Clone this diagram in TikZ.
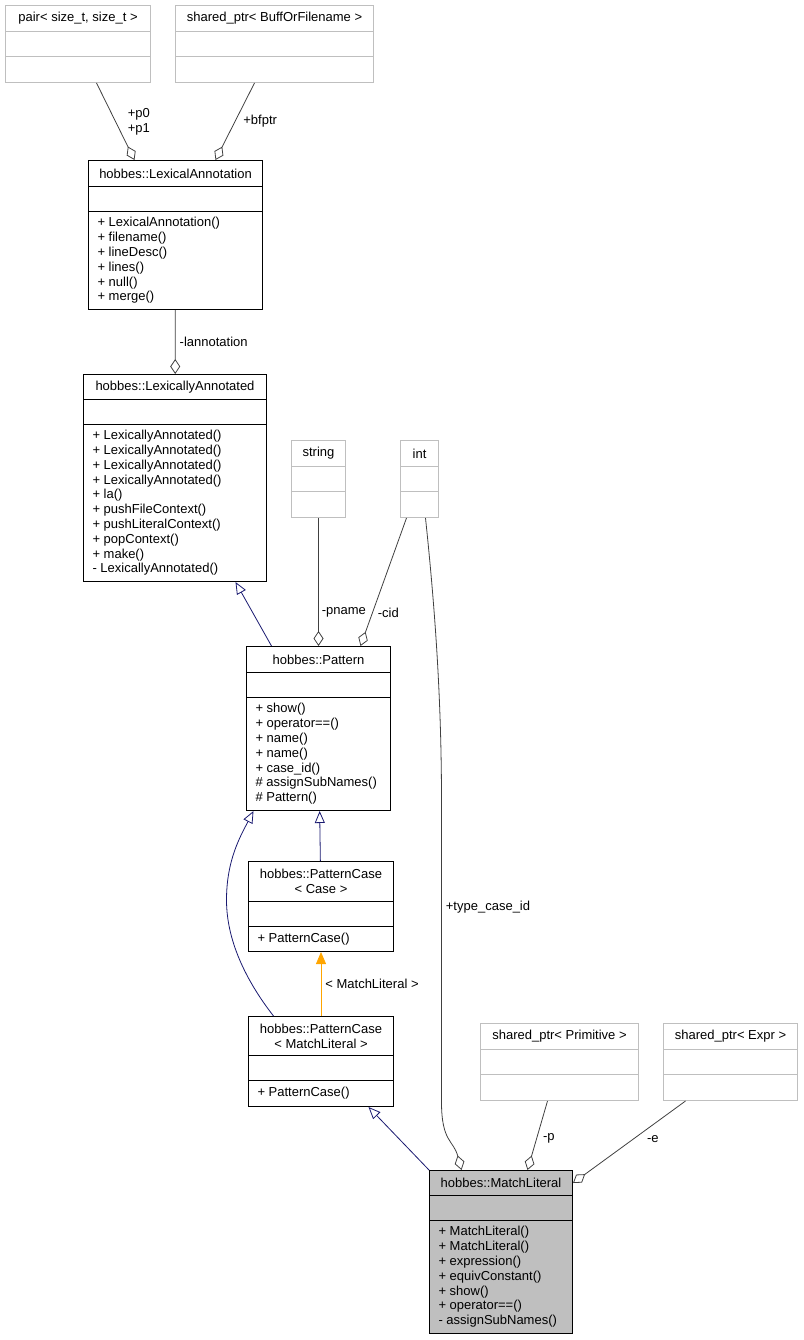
\documentclass[tikz,border=0pt]{standalone}
\usepackage{fontspec}
\setmainfont{Liberation Sans}
\usetikzlibrary{shapes.multipart,arrows.meta}
\definecolor{edgegray}{HTML}{404040}
\definecolor{boxgray}{HTML}{BFBFBF}
\definecolor{navyline}{HTML}{191970}
\definecolor{tmplorange}{HTML}{FFA500}
\newcommand{\cpart}[3]{\parbox[c][#2][c]{#1}{#3}}
\newcommand{\classbody}[5]{\cpart{#1}{#2}{\centering #3}\nodepart{second}\cpart{#1}{24pt}{}\nodepart{third}\cpart{#1}{#4}{\raggedright\leftskip=9pt\relax #5}}
\tikzset{
  cls/.style={rectangle split, rectangle split parts=3, draw=black, line width=1pt, inner sep=0pt, anchor=north west},
  extcls/.style={cls, draw=boxgray},
  curcls/.style={cls, fill=boxgray},
  usage/.style={draw=edgegray, line width=0.8pt, -{Diamond[open, length=15pt, width=10pt]}},
  inherit/.style={draw=navyline, line width=0.8pt, -{Triangle[open, length=12pt, width=10pt]}},
  tmpl/.style={draw=tmplorange, line width=0.8pt, -{Triangle[length=12pt, width=10pt]}},
  lbl/.style={anchor=west, inner sep=0pt}
}
\begin{document}
\begin{tikzpicture}[x=1pt, y=-1pt, font=\fontsize{13}{14.8}\selectfont]
  \useasboundingbox (0,0) rectangle (803,1340);
  \node[extcls] (pair) at (5,5) {\classbody{145pt}{25pt}{pair< size\_t, size\_t >}{25pt}{}};
  \node[extcls] (bof) at (175,5) {\classbody{198pt}{25pt}{shared\_ptr< BuffOrFilename >}{25pt}{}};
  \node[cls] (la) at (88,160) {\classbody{174pt}{25pt}{hobbes::LexicalAnnotation}{97pt}{%
    + LexicalAnnotation()\\+ filename()\\+ lineDesc()\\+ lines()\\+ null()\\+ merge()}};
  \node[cls] (lxa) at (83,374) {\classbody{183pt}{24pt}{hobbes::LexicallyAnnotated}{156pt}{%
    + LexicallyAnnotated()\\+ LexicallyAnnotated()\\+ LexicallyAnnotated()\\+ LexicallyAnnotated()\\%
    + la()\\+ pushFileContext()\\+ pushLiteralContext()\\+ popContext()\\+ make()\\- LexicallyAnnotated()}};
  \node[extcls] (str) at (291,440) {\classbody{54pt}{25pt}{string}{25pt}{}};
  \node[extcls] (int) at (400,440) {\classbody{38pt}{25pt}{int}{25pt}{}};
  \node[cls] (pattern) at (246,646) {\classbody{144pt}{25pt}{hobbes::Pattern}{112pt}{%
    + show()\\+ operator==()\\+ name()\\+ name()\\+ case\_id()\\\# assignSubNames()\\\# Pattern()}};
  \node[cls] (pccase) at (248,861) {\classbody{145pt}{39pt}{hobbes::PatternCase\\< Case >}{24pt}{%
    + PatternCase()}};
  \node[cls] (pcml) at (248,1016) {\classbody{145pt}{38pt}{hobbes::PatternCase\\< MatchLiteral >}{25pt}{%
    + PatternCase()}};
  \node[extcls] (prim) at (480,1023) {\classbody{158pt}{25pt}{shared\_ptr< Primitive >}{25pt}{}};
  \node[extcls] (expr) at (663,1023) {\classbody{134pt}{25pt}{shared\_ptr< Expr >}{25pt}{}};
  \node[curcls] (ml) at (429,1170) {\classbody{143pt}{24pt}{hobbes::MatchLiteral}{112pt}{%
    + MatchLiteral()\\+ MatchLiteral()\\+ expression()\\+ equivConstant()\\+ show()\\+ operator==()\\- assignSubNames()}};
  \begin{scope}
    \draw[usage] ([xshift=18.5pt]pair.south) -- node[lbl, pos=0.5, xshift=12pt, align=left]{+p0\\+p1} ([xshift=-41pt]la.north);
    \draw[usage] ([xshift=-20pt]bof.south) -- node[lbl, pos=0.5, xshift=8pt]{+bfptr} ([xshift=40pt]la.north);
    \draw[usage] (la) -- node[lbl, pos=0.5, xshift=4pt]{-lannotation} (lxa);
    \draw[usage] (str) -- node[lbl, pos=0.74, xshift=3pt]{-pname} (pattern);
    \draw[usage] ([xshift=-13pt]int.south) -- node[lbl, pos=0.74, xshift=5pt]{-cid} ([xshift=42pt]pattern.north);
    \draw[usage] ([xshift=6pt]int.south) .. controls +(10,95) and +(0,-100) .. ++(16,284)
      -- node[lbl, pos=0.35, xshift=4pt]{+type\_case\_id} ++(0,300)
      .. controls +(0,40) and +(-8,-30) .. ([xshift=-39.5pt]ml.north);
    \draw[usage] ([xshift=-12pt]prim.south) -- node[lbl, pos=0.54, xshift=6pt]{-p} ([xshift=26.5pt]ml.north);
    \draw[usage] ([xshift=-45pt]expr.south) -- node[lbl, pos=0.46, xshift=13pt]{-e} ([yshift=-13pt]ml.north east);
  \end{scope}
  \begin{scope}
    \draw[inherit] ([xshift=-47pt]pattern.north) -- ([xshift=60.5pt]lxa.south);
    \draw[inherit] (pccase) -- (pattern);
    \draw[inherit] ([xshift=-47.5pt]pcml.north) .. controls +(-28,-36) and +(0,40) .. ++(-47,-116)
      .. controls +(0,-40) and +(-13,25) .. ([xshift=-65pt]pattern.south);
    \draw[inherit] (ml.north west) -- ([xshift=47.5pt]pcml.south);
    \draw[tmpl] (pcml) -- node[lbl, pos=0.5, xshift=4pt]{< MatchLiteral >} (pccase);
  \end{scope}
\end{tikzpicture}
\end{document}
